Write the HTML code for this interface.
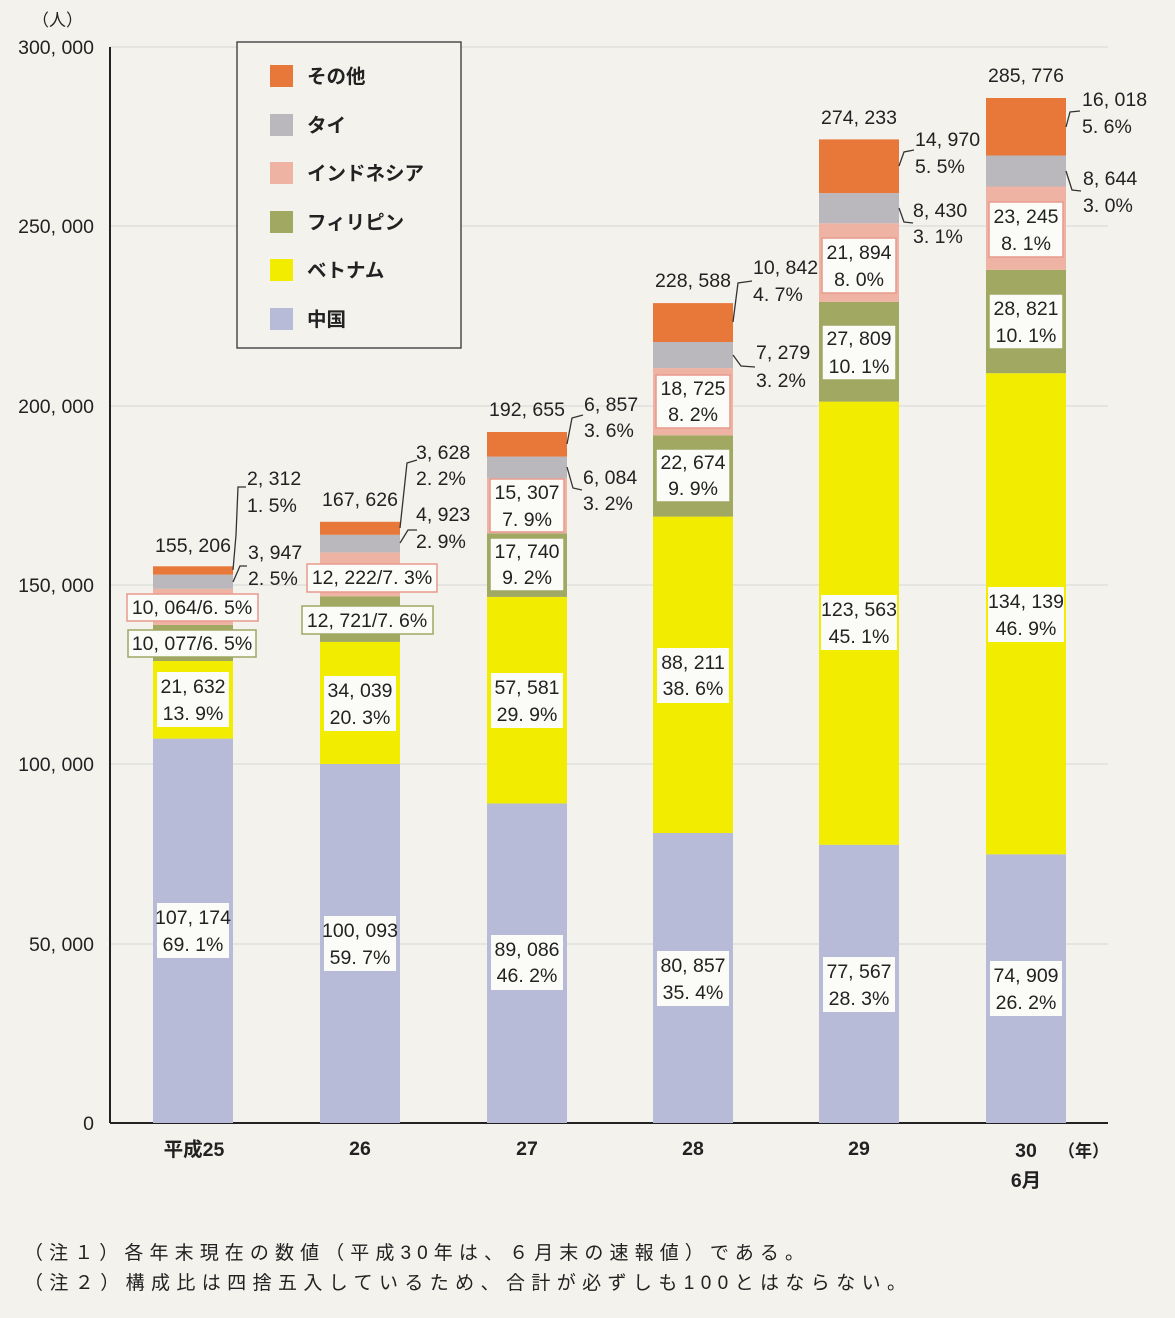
<!DOCTYPE html>
<html><head><meta charset="utf-8"><style>
body{margin:0;background:#f3f2ed}
svg{display:block}
text{font-family:"Liberation Sans Narrow","Liberation Sans","Noto Sans CJK JP",sans-serif;font-size:19.5px;fill:#222}
.c{text-anchor:middle}
.r{text-anchor:end}
.j{font-family:"Liberation Sans","Noto Sans CJK JP",sans-serif}
</style></head><body>
<svg width="1175" height="1318" viewBox="0 0 1175 1318">
<rect width="1175" height="1318" fill="#f3f2ed"/>
<g stroke="#d6d6d2" stroke-width="1">
<line x1="110" y1="47" x2="1108" y2="47"/><line x1="110" y1="226" x2="1108" y2="226"/>
<line x1="110" y1="406" x2="1108" y2="406"/><line x1="110" y1="585" x2="1108" y2="585"/>
<line x1="110" y1="764" x2="1108" y2="764"/><line x1="110" y1="944" x2="1108" y2="944"/>
</g>
<line x1="110" y1="47" x2="110" y2="1123" stroke="#222" stroke-width="2"/>
<line x1="110" y1="1123" x2="1108" y2="1123" stroke="#222" stroke-width="2"/>
<g class="r">
<text x="94" y="54" class="r">300, 000</text><text x="94" y="233" class="r">250, 000</text>
<text x="94" y="413" class="r">200, 000</text><text x="94" y="592" class="r">150, 000</text>
<text x="94" y="771" class="r">100, 000</text><text x="94" y="951" class="r">50, 000</text>
<text x="94" y="1130" class="r">0</text>
</g>
<text x="32" y="26" class="j" style="font-size:17px">（人）</text>
<g>
<rect x="153" y="738.6" width="80" height="384.4" fill="#b7bbd8"/>
<rect x="153" y="661" width="80" height="77.6" fill="#f2ec00"/>
<rect x="153" y="624.9" width="80" height="36.1" fill="#a0a862"/>
<rect x="153" y="588.8" width="80" height="36.1" fill="#efb3a3"/>
<rect x="153" y="574.6" width="80" height="14.2" fill="#bab8bd"/>
<rect x="153" y="566.3" width="80" height="8.3" fill="#e8783a"/>
<rect x="320" y="764" width="80" height="359" fill="#b7bbd8"/>
<rect x="320" y="641.9" width="80" height="122.1" fill="#f2ec00"/>
<rect x="320" y="596.3" width="80" height="45.6" fill="#a0a862"/>
<rect x="320" y="552.4" width="80" height="43.9" fill="#efb3a3"/>
<rect x="320" y="534.8" width="80" height="17.6" fill="#bab8bd"/>
<rect x="320" y="521.8" width="80" height="13" fill="#e8783a"/>
<rect x="487" y="803.5" width="80" height="319.5" fill="#b7bbd8"/>
<rect x="487" y="596.9" width="80" height="206.6" fill="#f2ec00"/>
<rect x="487" y="533.3" width="80" height="63.6" fill="#a0a862"/>
<rect x="487" y="478.4" width="80" height="54.9" fill="#efb3a3"/>
<rect x="487" y="456.6" width="80" height="21.8" fill="#bab8bd"/>
<rect x="487" y="432" width="80" height="24.6" fill="#e8783a"/>
<rect x="653" y="833" width="80" height="290" fill="#b7bbd8"/>
<rect x="653" y="516.6" width="80" height="316.4" fill="#f2ec00"/>
<rect x="653" y="435.3" width="80" height="81.3" fill="#a0a862"/>
<rect x="653" y="368.1" width="80" height="67.2" fill="#efb3a3"/>
<rect x="653" y="342" width="80" height="26.1" fill="#bab8bd"/>
<rect x="653" y="303.1" width="80" height="38.9" fill="#e8783a"/>
<rect x="819" y="844.8" width="80" height="278.2" fill="#b7bbd8"/>
<rect x="819" y="401.6" width="80" height="443.2" fill="#f2ec00"/>
<rect x="819" y="301.9" width="80" height="99.7" fill="#a0a862"/>
<rect x="819" y="223.3" width="80" height="78.6" fill="#efb3a3"/>
<rect x="819" y="193.1" width="80" height="30.2" fill="#bab8bd"/>
<rect x="819" y="139.4" width="80" height="53.7" fill="#e8783a"/>
<rect x="986" y="854.3" width="80" height="268.7" fill="#b7bbd8"/>
<rect x="986" y="373.2" width="80" height="481.1" fill="#f2ec00"/>
<rect x="986" y="269.8" width="80" height="103.4" fill="#a0a862"/>
<rect x="986" y="186.5" width="80" height="83.3" fill="#efb3a3"/>
<rect x="986" y="155.5" width="80" height="31" fill="#bab8bd"/>
<rect x="986" y="98" width="80" height="57.5" fill="#e8783a"/>
</g>
<g fill="#fbfbf8">
<rect x="157" y="903" width="72" height="55"/><rect x="324" y="916" width="72" height="55"/>
<rect x="491" y="935" width="72" height="55"/><rect x="657" y="951" width="72" height="55"/>
<rect x="823" y="957" width="72" height="55"/><rect x="990" y="961" width="72" height="55"/>
<rect x="157" y="672" width="72" height="55"/><rect x="324" y="676" width="72" height="55"/>
<rect x="491" y="673" width="72" height="55"/><rect x="657" y="648" width="72" height="55"/>
<rect x="821" y="595" width="76" height="55"/><rect x="988" y="587" width="76" height="55"/>
</g>
<g fill="#fbfbf8" stroke="#a0a862" stroke-width="1.5">
<rect x="128" y="630" width="128" height="27"/><rect x="302" y="606" width="131" height="28"/>
<rect x="490" y="538" width="74" height="53"/><rect x="656" y="449" width="74" height="53"/>
<rect x="822" y="325" width="74" height="55"/><rect x="989" y="294" width="74" height="55"/>
</g>
<g fill="#fbfbf8" stroke="#e89a8c" stroke-width="1.5">
<rect x="127" y="594" width="131" height="27"/><rect x="307" y="564" width="130" height="28"/>
<rect x="490" y="479" width="74" height="53"/><rect x="656" y="375" width="74" height="53"/>
<rect x="822" y="238" width="74" height="55"/><rect x="989" y="202" width="74" height="55"/>
</g>
<g fill="none" stroke="#333" stroke-width="1.3">
<polyline points="233,570 236,535 238,487 246,487"/>
<polyline points="233,582 240,566 247,566"/>
<polyline points="400,528 407,463 417,460"/>
<polyline points="400,543 408,530 417,530"/>
<polyline points="567,444 572,418 583,415"/>
<polyline points="567,467 573,488 582,490"/>
<polyline points="733,322 738,283 752,281"/>
<polyline points="733,355 741,366 755,367"/>
<polyline points="899,166 904,152 914,150"/>
<polyline points="899,208 904,222 913,223"/>
<polyline points="1066,127 1070,112 1080,111"/>
<polyline points="1066,171 1072,190 1081,191"/>
</g>
<g class="c">
<text x="193" y="924" class="c">107, 174</text><text x="193" y="951" class="c">69. 1%</text>
<text x="193" y="693" class="c">21, 632</text><text x="193" y="720" class="c">13. 9%</text>
<text x="192" y="650" class="c">10, 077/6. 5%</text>
<text x="192" y="614" class="c">10, 064/6. 5%</text>
<text x="193" y="552" class="c">155, 206</text>
<text x="360" y="937" class="c">100, 093</text><text x="360" y="964" class="c">59. 7%</text>
<text x="360" y="697" class="c">34, 039</text><text x="360" y="724" class="c">20. 3%</text>
<text x="367" y="627" class="c">12, 721/7. 6%</text>
<text x="372" y="584" class="c">12, 222/7. 3%</text>
<text x="360" y="506" class="c">167, 626</text>
<text x="527" y="956" class="c">89, 086</text><text x="527" y="982" class="c">46. 2%</text>
<text x="527" y="694" class="c">57, 581</text><text x="527" y="721" class="c">29. 9%</text>
<text x="527" y="558" class="c">17, 740</text><text x="527" y="584" class="c">9. 2%</text>
<text x="527" y="499" class="c">15, 307</text><text x="527" y="526" class="c">7. 9%</text>
<text x="527" y="416" class="c">192, 655</text>
<text x="693" y="972" class="c">80, 857</text><text x="693" y="999" class="c">35. 4%</text>
<text x="693" y="669" class="c">88, 211</text><text x="693" y="695" class="c">38. 6%</text>
<text x="693" y="469" class="c">22, 674</text><text x="693" y="495" class="c">9. 9%</text>
<text x="693" y="395" class="c">18, 725</text><text x="693" y="421" class="c">8. 2%</text>
<text x="693" y="287" class="c">228, 588</text>
<text x="859" y="978" class="c">77, 567</text><text x="859" y="1005" class="c">28. 3%</text>
<text x="859" y="616" class="c">123, 563</text><text x="859" y="643" class="c">45. 1%</text>
<text x="859" y="345" class="c">27, 809</text><text x="859" y="373" class="c">10. 1%</text>
<text x="859" y="259" class="c">21, 894</text><text x="859" y="286" class="c">8. 0%</text>
<text x="859" y="124" class="c">274, 233</text>
<text x="1026" y="982" class="c">74, 909</text><text x="1026" y="1009" class="c">26. 2%</text>
<text x="1026" y="608" class="c">134, 139</text><text x="1026" y="635" class="c">46. 9%</text>
<text x="1026" y="315" class="c">28, 821</text><text x="1026" y="342" class="c">10. 1%</text>
<text x="1026" y="223" class="c">23, 245</text><text x="1026" y="250" class="c">8. 1%</text>
<text x="1026" y="82" class="c">285, 776</text>
</g>
<g>
<text x="247" y="485">2, 312</text><text x="247" y="512">1. 5%</text>
<text x="248" y="559">3, 947</text><text x="248" y="585">2. 5%</text>
<text x="416" y="459">3, 628</text><text x="416" y="485">2. 2%</text>
<text x="416" y="521">4, 923</text><text x="416" y="548">2. 9%</text>
<text x="584" y="411">6, 857</text><text x="584" y="437">3. 6%</text>
<text x="583" y="484">6, 084</text><text x="583" y="510">3. 2%</text>
<text x="753" y="274">10, 842</text><text x="753" y="301">4. 7%</text>
<text x="756" y="359">7, 279</text><text x="756" y="387">3. 2%</text>
<text x="915" y="146">14, 970</text><text x="915" y="173">5. 5%</text>
<text x="913" y="217">8, 430</text><text x="913" y="243">3. 1%</text>
<text x="1082" y="106">16, 018</text><text x="1082" y="133">5. 6%</text>
<text x="1083" y="185">8, 644</text><text x="1083" y="212">3. 0%</text>
</g>
<rect x="237" y="42" width="224" height="306" fill="#f3f2ed" stroke="#333" stroke-width="1.3"/>
<rect x="270" y="65" width="23" height="22" fill="#e8783a"/>
<rect x="270" y="114" width="23" height="22" fill="#bab8bd"/>
<rect x="270" y="162" width="23" height="22" fill="#efb3a3"/>
<rect x="270" y="211" width="23" height="22" fill="#a0a862"/>
<rect x="270" y="259" width="23" height="22" fill="#f2ec00"/>
<rect x="270" y="308" width="23" height="22" fill="#b7bbd8"/>
<g class="j" style="font-size:20px;font-weight:bold">
<text x="307" y="83" class="j">その他</text>
<text x="307" y="132" class="j">タイ</text>
<text x="307" y="180" class="j">インドネシア</text>
<text x="307" y="229" class="j">フィリピン</text>
<text x="307" y="277" class="j">ベトナム</text>
<text x="307" y="326" class="j">中国</text>
</g>
<g style="font-size:19px;font-weight:bold">
<text x="194" y="1156" class="c j">平成25</text>
<text x="360" y="1155" class="c">26</text>
<text x="527" y="1155" class="c">27</text>
<text x="693" y="1155" class="c">28</text>
<text x="859" y="1155" class="c">29</text>
<text x="1026" y="1157" class="c">30</text>
<text x="1026" y="1187" class="c j">6月</text>
<text x="1058" y="1157" class="j" style="font-size:17px">（年）</text>
</g>
<text x="24" y="1259" class="j" style="font-size:19px" textLength="780" lengthAdjust="spacing">（注１）各年末現在の数値（平成30年は、６月末の速報値）である。</text>
<text x="24" y="1289" class="j" style="font-size:19px" textLength="882" lengthAdjust="spacing">（注２）構成比は四捨五入しているため、合計が必ずしも100とはならない。</text>
</svg>
</body></html>
